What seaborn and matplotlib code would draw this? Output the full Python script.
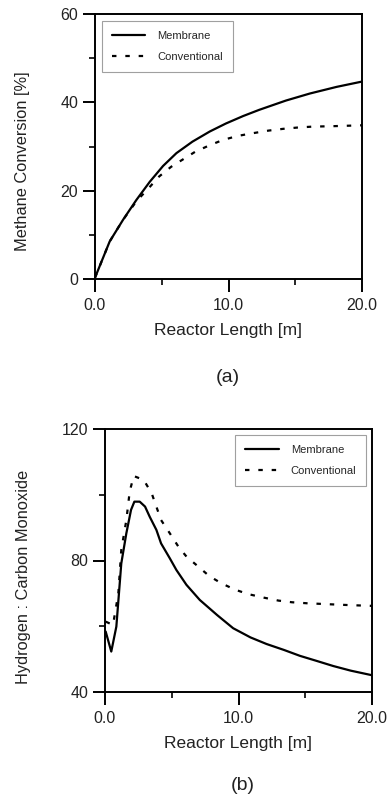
import matplotlib
matplotlib.use("Agg")
import matplotlib.pyplot as plt
from matplotlib.ticker import MultipleLocator, FormatStrFormatter
import seaborn as sns
import pandas as pd

# ---- data ----
conv_x_mem = [0.0, 1.1, 2.1, 3.1, 4.1, 5.1, 6.1, 7.3, 8.6, 9.8, 11.1, 12.3, 14.3, 16.1, 18.1, 20.0]
conv_y_mem = [0.3, 8.5, 13.4, 17.9, 22.0, 25.6, 28.5, 31.1, 33.4, 35.2, 36.9, 38.3, 40.4, 42.0, 43.5, 44.7]
conv_x_con = [0.0, 1.1, 2.1, 3.1, 4.0, 4.8, 5.7, 6.6, 7.5, 8.6, 9.6, 10.7, 11.8, 13.0, 14.1, 15.2, 16.3, 17.8, 20.0]
conv_y_con = [0.3, 8.5, 13.4, 17.6, 20.5, 23.2, 25.4, 27.1, 28.8, 30.3, 31.5, 32.4, 33.0, 33.6, 34.0, 34.3, 34.5, 34.6, 34.8]

ratio_x_mem = [0.05, 0.47, 0.85, 1.22, 1.6, 1.95, 2.2, 2.6, 3.0, 3.35, 3.85, 4.2, 4.85, 5.35, 6.1, 7.1,
               8.4, 9.6, 10.9, 12.1, 13.4, 14.6, 15.9, 17.1, 18.4, 20.0]
ratio_y_mem = [58.4, 52.3, 59.9, 79.1, 88.3, 95.4, 97.9, 97.9, 96.4, 93.3, 89.3, 85.2, 80.7, 77.1, 72.6, 68.0,
               63.4, 59.4, 56.6, 54.6, 52.8, 51.0, 49.4, 47.9, 46.5, 45.1]
ratio_x_con = [0.05, 0.6, 1.0, 1.22, 1.6, 1.85, 2.15, 2.9, 3.5, 4.2, 4.85, 5.5, 6.1, 7.0, 7.8, 8.7,
               9.7, 10.7, 11.9, 13.0, 14.0, 15.1, 16.2, 17.3, 18.5, 20.0]
ratio_y_con = [61.4, 60.4, 70.0, 83.2, 92.3, 101.0, 105.7, 104.5, 100.4, 92.3, 88.3, 84.2, 81.2, 78.1, 75.3, 73.1,
               71.2, 69.8, 68.7, 67.8, 67.3, 67.0, 66.8, 66.6, 66.4, 66.2]

series_names = ["Membrane", "Conventional"]

sns.set_style("ticks")
plt.rcParams['font.family'] = ['Liberation Sans', 'DejaVu Sans']

df_a = pd.concat([
    pd.DataFrame({"x": conv_x_mem, "y": conv_y_mem, "s": series_names[0]}),
    pd.DataFrame({"x": conv_x_con, "y": conv_y_con, "s": series_names[1]}),
])
df_b = pd.concat([
    pd.DataFrame({"x": ratio_x_mem, "y": ratio_y_mem, "s": series_names[0]}),
    pd.DataFrame({"x": ratio_x_con, "y": ratio_y_con, "s": series_names[1]}),
])

fig = plt.figure(figsize=(3.9, 8.08), dpi=100)
ax1 = fig.add_axes([95/390, 1 - 279/808, 267/390, 265/808])
ax2 = fig.add_axes([105/390, 1 - 692/808, 267/390, 263/808])

dashes = {series_names[0]: "", series_names[1]: (2, 4)}

def style_ax(ax, ylim, ymaj, ymin_, ylabel, ylab_y):
    ax.set_xlim(0, 20)
    ax.set_ylim(*ylim)
    ax.xaxis.set_major_locator(MultipleLocator(10))
    ax.xaxis.set_minor_locator(MultipleLocator(5))
    ax.xaxis.set_major_formatter(FormatStrFormatter("%.1f"))
    ax.yaxis.set_major_locator(MultipleLocator(ymaj))
    ax.yaxis.set_minor_locator(MultipleLocator(ymin_))
    for sp in ax.spines.values():
        sp.set_visible(True)
        sp.set_linewidth(1.4)
        sp.set_color("black")
    ax.tick_params(which="major", direction="out", length=9, width=1.4,
                   labelsize=11.5, colors="black", labelcolor="#222222", pad=3)
    ax.tick_params(axis="x", which="major", pad=5)
    ax.tick_params(which="minor", direction="out", length=4, width=1.4)
    ax.set_xlabel("Reactor Length [m]", fontsize=12.5, color="#222222", labelpad=7)
    ax.set_ylabel(ylabel, fontsize=11.8, color="#222222", labelpad=22, y=ylab_y)
    ax.set_facecolor("white")

for ax, df in ((ax1, df_a), (ax2, df_b)):
    sns.lineplot(data=df, x="x", y="y", style="s", dashes=dashes, color="black",
                 linewidth=1.6, ax=ax, sort=False, estimator=None)
    for ln in ax.get_lines():
        ln.set_solid_joinstyle("round")
        ln.set_solid_capstyle("round")

style_ax(ax1, (0, 60), 20, 10, "Methane Conversion [%]", 0.445)
style_ax(ax2, (40, 120), 40, 20, "Hydrogen : Carbon Monoxide", 0.437)

leg_kw = dict(fontsize=8, handlelength=3.0, frameon=True, fancybox=False,
              edgecolor="#888888", borderpad=0.9, labelspacing=1.0, handletextpad=1.1)
leg1 = ax1.legend(loc="upper left", borderaxespad=0.6, **leg_kw)
leg1.get_frame().set_linewidth(0.8)
leg2 = ax2.legend(loc="upper right", borderaxespad=0.5, **leg_kw)
leg2.get_frame().set_linewidth(0.8)

fig.text(228/390, 1 - 378/808, "(a)", fontsize=14, ha="center", va="center", color="#222222")
fig.text(243/390, 1 - 785/808, "(b)", fontsize=14, ha="center", va="center", color="#222222")

fig.savefig("out.png", dpi=100, facecolor="white")
